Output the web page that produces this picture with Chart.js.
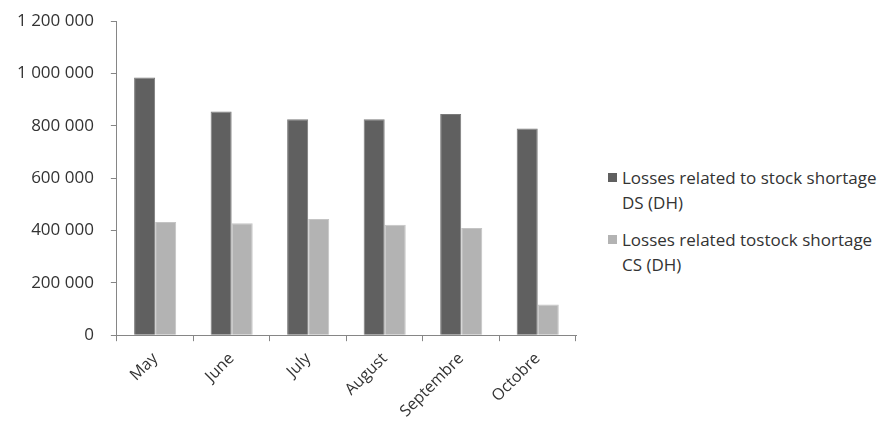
<!DOCTYPE html>
<html>
<head>
<meta charset="utf-8">
<script src="https://cdn.jsdelivr.net/npm/chart.js@4.4.0/dist/chart.umd.min.js"></script>
<style>
  html, body { margin: 0; padding: 0; background: #ffffff; overflow: hidden; }
  #wrap { position: relative; width: 878px; height: 429px; overflow: hidden; }
  #chartBox { position: absolute; left: 0; top: -6px; width: 584px; height: 435px; }
  #legend { position: absolute; left: 608px; top: 165px; font-family: "Open Sans", sans-serif; font-size: 17px; color: #333333; }
  .item { display: flex; align-items: flex-start; margin-bottom: 12px; line-height: 25px; }
  .swatch { width: 9px; height: 9px; margin-top: 8px; margin-right: 5px; flex: none; }
</style>
</head>
<body>
<div id="wrap">
  <div id="chartBox"><canvas id="lossChart"></canvas></div>
  <div id="legend"></div>
</div>
<script>
const months = ["May", "June", "July", "August", "Septembre", "Octobre"];
const seriesNames = [
  ["Losses related to stock shortage", "DS (DH)"],
  ["Losses related tostock shortage", "CS (DH)"],
];
const lossesDS = [985000, 855000, 825000, 825000, 845000, 790000];
const lossesCS = [433000, 428000, 444000, 422000, 410000, 117000];
const yTicks = [0, 200000, 400000, 600000, 800000, 1000000, 1200000];

const colors = ["#606060", "#b3b3b3"];
const borders = ["#7a7a7a", "#c4c4c4"];

function formatSpaces(v) {
  return String(v).replace(/\B(?=(\d{3})+(?!\d))/g, " ");
}

const ctx = document.getElementById("lossChart");

new Chart(ctx, {
  type: "bar",
  data: {
    labels: months,
    datasets: [
      {
        label: seriesNames[0].join(" "),
        data: lossesDS,
        backgroundColor: colors[0],
        borderColor: borders[0],
        borderWidth: 1,
        categoryPercentage: 0.55,
        barPercentage: 1.0,
      },
      {
        label: seriesNames[1].join(" "),
        data: lossesCS,
        backgroundColor: colors[1],
        borderColor: borders[1],
        borderWidth: 1,
        categoryPercentage: 0.55,
        barPercentage: 1.0,
      },
    ],
  },
  options: {
    responsive: true,
    maintainAspectRatio: false,
    animation: false,
    layout: {
      padding: { left: 0, right: 8, top: 0, bottom: 0 },
    },
    plugins: {
      legend: { display: false },
      tooltip: { enabled: false },
    },
    scales: {
      x: {
        grid: {
          display: true,
          drawOnChartArea: false,
          color: "#868686",
          tickLength: 6,
        },
        border: { color: "#868686", width: 1 },
        ticks: {
          color: "#333333",
          maxRotation: 45,
          minRotation: 45,
          padding: 8,
          font: { size: 16, family: "Open Sans" },
        },
      },
      y: {
        min: 0,
        max: 1200000,
        afterBuildTicks: (axis) => {
          axis.ticks = yTicks.map((v) => ({ value: v }));
        },
        grid: {
          display: true,
          drawOnChartArea: false,
          color: "#868686",
          tickLength: 6,
        },
        border: { color: "#868686", width: 1 },
        ticks: {
          color: "#333333",
          padding: 17,
          font: { size: 17, family: "Open Sans" },
          callback: (v) => formatSpaces(v),
        },
      },
    },
  },
});

const legend = document.getElementById("legend");
seriesNames.forEach((lines, i) => {
  const item = document.createElement("div");
  item.className = "item";
  const sw = document.createElement("div");
  sw.className = "swatch";
  sw.style.background = colors[i];
  const txt = document.createElement("div");
  txt.innerHTML = lines.join("<br>");
  item.appendChild(sw);
  item.appendChild(txt);
  legend.appendChild(item);
});
</script>
</body>
</html>
